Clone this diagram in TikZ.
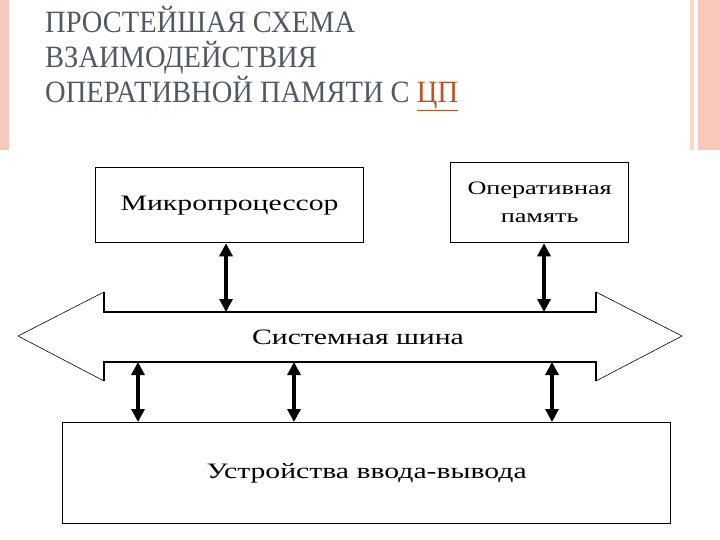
\documentclass[tikz,border=0pt]{standalone}
\usepackage{fontspec}
\usetikzlibrary{arrows.meta}
\setmainfont{Liberation Serif}
\definecolor{ttl}{HTML}{505A64}
\definecolor{pinkbar}{HTML}{F8C8B8}
\definecolor{orng}{HTML}{C0501E}
\newcommand{\wide}[1]{\scalebox{1.35}[1]{#1}}
\begin{document}
\begin{tikzpicture}[x=1pt,y=-1pt,
  box/.style={draw,line width=1.3pt,inner sep=0pt},
  lbl/.style={font=\fontsize{22}{24}\selectfont},
  conn/.style={line width=3.5pt,{Triangle[length=13pt,width=13pt]}-{Triangle[length=13pt,width=13pt]}}]
\useasboundingbox (0,0) rectangle (720,540);
\fill[pinkbar] (0,0) rectangle (9,150);
\fill[pinkbar!70] (690,0) rectangle (694,150);
\fill[pinkbar] (698,0) rectangle (720,150);
\node[anchor=north west,align=left,text=ttl,font=\fontsize{31}{35}\selectfont,inner sep=0pt] (title) at (45,6)
  {\scalebox{0.92}[1]{ПРОСТЕЙШАЯ СХЕМА}\\\scalebox{0.92}[1]{ВЗАИМОДЕЙСТВИЯ}\\\scalebox{0.92}[1]{ОПЕРАТИВНОЙ ПАМЯТИ С \textcolor{orng}{\underline{ЦП}}}};
\node[box,minimum width=268pt,minimum height=75pt,anchor=north west,lbl] (cpu) at (95,167) {\wide{Микропроцессор}};
\node[box,minimum width=178pt,minimum height=80pt,anchor=north west,align=center,font=\fontsize{19}{28}\selectfont] (ram) at (450,162) {\scalebox{1.38}[1]{Оперативная}\\\scalebox{1.38}[1]{память}};
\node[box,minimum width=608pt,minimum height=101pt,anchor=north west,lbl] (io) at (62,422) {\wide{Устройства ввода-вывода}};
% bus
\coordinate (bl) at (18,336); \coordinate (br) at (682,336);
\draw[line width=0.6pt] (104,312) -- (104,292) -- (bl) -- (104,381) -- (104,362);
\draw[line width=0.6pt] (596,312) -- (596,292) -- (br) -- (596,381) -- (596,362);
\draw[line width=1.5pt] (104,292) -- (104,312) -- (596,312) -- (596,292);
\draw[line width=1.5pt] (104,381) -- (104,362) -- (596,362) -- (596,381);
\node[lbl] (bus) at (358,337) {\wide{Системная шина}};
\coordinate (t1) at (226,312); \coordinate (t2) at (544,312);
\coordinate (b1) at (138,362); \coordinate (b2) at (294,362); \coordinate (b3) at (552,362);
\draw[conn] (cpu.south -| t1) -- (t1);
\draw[conn] (ram.south -| t2) -- (t2);
\draw[conn] (b1) -- (io.north -| b1);
\draw[conn] (b2) -- (io.north -| b2);
\draw[conn] (b3) -- (io.north -| b3);
\end{tikzpicture}
\end{document}
